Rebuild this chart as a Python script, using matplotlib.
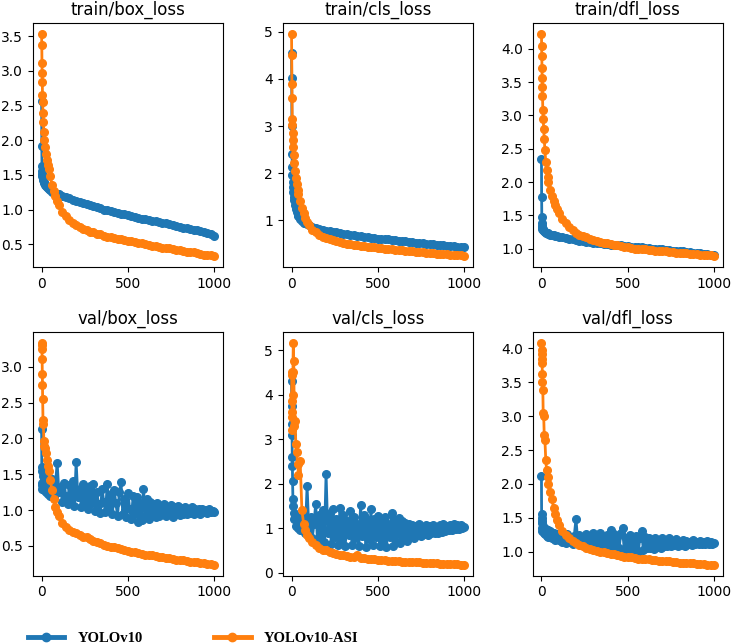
import matplotlib
matplotlib.use('Agg')
import matplotlib.pyplot as plt
from matplotlib.lines import Line2D

early_epochs = [0, 1, 2, 3, 4, 5, 6, 8, 10, 13, 16, 20, 25, 30, 35, 40, 50, 60, 70, 80, 90, 100]
epochs = early_epochs + list(range(120, 1001, 20))       # smooth curves
epochs_val = early_epochs + list(range(110, 1001, 10))   # noisy YOLOv10 val curves

##### train losses
train_box_v10 = [2.56, 1.92, 1.63, 1.56, 1.52, 1.49, 1.47, 1.44, 1.42, 1.40, 1.38, 1.36, 1.34, 1.32, 1.31, 1.30,
                 1.28, 1.26, 1.25, 1.24, 1.23, 1.22,
                 1.20, 1.18, 1.16, 1.14, 1.13, 1.11, 1.10, 1.08, 1.06, 1.05,
                 1.03, 1.02, 1.00, 0.99, 0.98, 0.96, 0.95, 0.94, 0.93, 0.92,
                 0.91, 0.89, 0.88, 0.87, 0.86, 0.85, 0.84, 0.83, 0.82, 0.81,
                 0.80, 0.79, 0.77, 0.76, 0.75, 0.74, 0.73, 0.72, 0.71, 0.70,
                 0.69, 0.67, 0.66, 0.64, 0.62]
train_box_asi = [3.53, 3.37, 3.12, 2.97, 2.84, 2.65, 2.55, 2.40, 2.27, 2.12, 2.00, 1.90, 1.80, 1.72, 1.64, 1.58,
                 1.48, 1.36, 1.27, 1.19, 1.12, 1.06,
                 0.97, 0.90, 0.85, 0.81, 0.78, 0.75, 0.72, 0.70, 0.68, 0.67,
                 0.65, 0.64, 0.62, 0.61, 0.60, 0.59, 0.58, 0.57, 0.56, 0.55,
                 0.54, 0.53, 0.52, 0.51, 0.50, 0.49, 0.48, 0.47, 0.46, 0.45,
                 0.44, 0.44, 0.43, 0.42, 0.41, 0.40, 0.39, 0.39, 0.38, 0.37,
                 0.36, 0.35, 0.35, 0.34, 0.33]
train_cls_v10 = [4.55, 4.03, 3.00, 2.40, 2.12, 1.95, 1.82, 1.70, 1.60, 1.50, 1.42, 1.33, 1.24, 1.17, 1.12, 1.08,
                 1.02, 0.98, 0.95, 0.93, 0.91, 0.89,
                 0.86, 0.84, 0.82, 0.80, 0.78, 0.77, 0.75, 0.74, 0.72, 0.71,
                 0.70, 0.69, 0.68, 0.67, 0.66, 0.65, 0.64, 0.63, 0.62, 0.61,
                 0.60, 0.59, 0.59, 0.58, 0.57, 0.56, 0.55, 0.55, 0.54, 0.53,
                 0.52, 0.52, 0.51, 0.50, 0.49, 0.49, 0.48, 0.47, 0.47, 0.46,
                 0.45, 0.45, 0.44, 0.43, 0.42]
train_cls_asi = [4.95, 4.50, 3.90, 3.60, 3.15, 3.02, 2.85, 2.70, 2.55, 2.38, 2.22, 2.05, 1.90, 1.76, 1.64, 1.55,
                 1.40, 1.26, 1.15, 1.05, 0.97, 0.90,
                 0.80, 0.74, 0.69, 0.65, 0.62, 0.59, 0.57, 0.55, 0.53, 0.52,
                 0.50, 0.49, 0.48, 0.47, 0.46, 0.45, 0.44, 0.43, 0.42, 0.41,
                 0.40, 0.39, 0.39, 0.38, 0.37, 0.36, 0.36, 0.35, 0.34, 0.34,
                 0.33, 0.32, 0.32, 0.31, 0.30, 0.30, 0.29, 0.29, 0.28, 0.28,
                 0.27, 0.26, 0.26, 0.25, 0.24]
train_dfl_v10 = [2.35, 1.78, 1.47, 1.38, 1.34, 1.32, 1.30, 1.29, 1.28, 1.27, 1.26, 1.25, 1.24, 1.23, 1.23, 1.22,
                 1.21, 1.20, 1.20, 1.19, 1.19, 1.18,
                 1.17, 1.16, 1.15, 1.14, 1.13, 1.12, 1.11, 1.10, 1.10, 1.09,
                 1.08, 1.08, 1.07, 1.07, 1.06, 1.06, 1.05, 1.05, 1.04, 1.04,
                 1.03, 1.03, 1.02, 1.02, 1.01, 1.01, 1.00, 1.00, 0.99, 0.99,
                 0.98, 0.98, 0.97, 0.97, 0.96, 0.96, 0.95, 0.95, 0.94, 0.94,
                 0.93, 0.92, 0.92, 0.91, 0.90]
train_dfl_asi = [4.22, 4.05, 3.90, 3.72, 3.57, 3.43, 3.30, 3.08, 2.95, 2.80, 2.65, 2.48, 2.30, 2.18, 2.08, 2.00,
                 1.88, 1.79, 1.71, 1.65, 1.59, 1.54,
                 1.45, 1.38, 1.33, 1.28, 1.24, 1.21, 1.19, 1.17, 1.15, 1.13,
                 1.12, 1.10, 1.09, 1.08, 1.07, 1.06, 1.05, 1.04, 1.03, 1.02,
                 1.01, 1.00, 1.00, 0.99, 0.99, 0.98, 0.98, 0.97, 0.97, 0.96,
                 0.96, 0.95, 0.95, 0.94, 0.94, 0.93, 0.93, 0.92, 0.92, 0.92,
                 0.91, 0.91, 0.90, 0.90, 0.89]

##### val losses (YOLOv10 on epochs_val, YOLOv10-ASI on epochs)
val_box_v10 = [2.13, 1.55, 1.35, 1.30, 1.60, 1.38, 1.32, 1.48, 1.30, 1.42, 1.28, 1.45, 1.25, 1.40, 1.22, 1.38,
               1.20, 1.43, 1.18, 1.35, 1.66, 1.25,
               1.32, 1.12, 1.38, 1.20, 1.08, 1.35, 1.15, 1.40, 1.06, 1.67,
               1.18, 1.30, 1.04, 1.36, 1.12, 1.28, 1.02, 1.34, 1.10, 1.37,
               0.99, 1.25, 1.08, 0.96, 1.30, 1.12, 0.97, 1.36, 1.05, 1.22,
               0.94, 1.28, 1.10, 0.92, 1.25, 1.39, 0.95, 1.15, 0.90, 1.24,
               1.02, 0.88, 1.20, 0.95, 1.18, 0.84, 1.10, 0.86, 1.30, 0.92,
               1.15, 0.87, 1.12, 0.95, 1.08, 0.90, 1.10, 0.92, 1.06, 0.94,
               1.08, 0.92, 1.05, 0.95, 1.07, 0.91, 1.04, 0.94, 1.06, 0.93,
               1.03, 0.95, 1.05, 0.94, 1.02, 0.96, 1.04, 0.95, 1.02, 0.97,
               1.01, 0.95, 1.02, 0.97, 1.00, 0.96, 1.01, 0.97, 0.99, 0.98]
val_box_asi = [3.33, 3.30, 3.25, 3.10, 2.90, 2.75, 2.55, 2.25, 2.20, 1.97, 1.90, 1.87, 1.80, 1.70, 1.62, 1.55,
               1.42, 1.28, 1.15, 1.05, 0.98, 0.92,
               0.82, 0.76, 0.72, 0.70, 0.68, 0.66, 0.63, 0.62, 0.60, 0.57,
               0.55, 0.54, 0.52, 0.50, 0.49, 0.48, 0.47, 0.46, 0.44, 0.43,
               0.42, 0.41, 0.40, 0.39, 0.38, 0.38, 0.37, 0.36, 0.35, 0.34,
               0.33, 0.33, 0.32, 0.31, 0.30, 0.30, 0.29, 0.28, 0.28, 0.27,
               0.26, 0.26, 0.25, 0.25, 0.24]
val_cls_v10 = [4.30, 3.75, 3.35, 3.10, 2.60, 2.40, 2.05, 1.65, 1.50, 1.35, 1.20, 1.30, 1.05, 1.25, 1.00, 1.20,
               0.95, 1.15, 1.30, 0.90, 1.95, 1.00,
               1.25, 0.78, 1.10, 1.55, 0.72, 1.30, 0.85, 1.40, 0.68, 2.22,
               0.90, 1.35, 0.65, 1.42, 0.80, 1.20, 0.62, 1.45, 0.75, 1.30,
               0.60, 1.15, 0.85, 1.38, 0.62, 1.25, 0.78, 1.10, 0.60, 1.52,
               0.82, 1.30, 0.58, 1.18, 0.75, 1.42, 0.62, 1.20, 0.80, 1.28,
               0.60, 1.15, 0.72, 1.25, 0.58, 1.10, 0.80, 1.35, 0.60, 1.18,
               0.70, 1.22, 0.66, 1.15, 0.78, 1.12, 0.72, 1.10, 0.80, 1.08,
               0.78, 1.05, 0.84, 1.10, 0.82, 1.02, 0.86, 1.08, 0.85, 1.05,
               0.88, 1.08, 0.90, 1.02, 0.88, 1.06, 0.92, 1.10, 0.93, 1.04,
               0.95, 1.08, 0.96, 1.10, 0.98, 1.06, 0.97, 1.08, 1.00, 1.03]
val_cls_asi = [4.50, 4.45, 3.85, 3.60, 3.20, 3.50, 4.00, 4.50, 5.16, 4.75, 3.30, 3.40, 2.90, 2.70, 2.45, 2.20,
               2.50, 1.40, 1.10, 0.95, 0.85, 0.78,
               0.68, 0.62, 0.56, 0.52, 0.50, 0.47, 0.44, 0.42, 0.40, 0.39,
               0.38, 0.36, 0.35, 0.40, 0.33, 0.32, 0.31, 0.30, 0.30, 0.29,
               0.28, 0.28, 0.27, 0.27, 0.26, 0.26, 0.25, 0.25, 0.24, 0.24,
               0.23, 0.23, 0.22, 0.22, 0.21, 0.21, 0.21, 0.20, 0.20, 0.20,
               0.19, 0.19, 0.19, 0.18, 0.18]
val_dfl_v10 = [2.12, 1.45, 1.30, 1.55, 1.50, 1.35, 1.42, 1.30, 1.38, 1.28, 1.35, 1.26, 1.33, 1.24, 1.32, 1.22,
               1.30, 1.20, 1.28, 1.18, 1.26, 1.17,
               1.25, 1.14, 1.22, 1.13, 1.26, 1.15, 1.20, 1.12, 1.24, 1.48,
               1.16, 1.25, 1.10, 1.22, 1.12, 1.26, 1.09, 1.24, 1.14, 1.27,
               1.06, 1.22, 1.10, 1.28, 1.04, 1.20, 1.08, 1.25, 1.03, 1.32,
               1.10, 1.26, 1.02, 1.22, 1.06, 1.28, 1.35, 1.00, 1.20, 1.05,
               1.25, 1.00, 1.18, 1.06, 1.24, 0.99, 1.20, 1.30, 1.03, 1.22,
               1.05, 1.20, 1.06, 1.18, 1.04, 1.21, 1.07, 1.17, 1.06, 1.20,
               1.08, 1.18, 1.09, 1.20, 1.08, 1.16, 1.10, 1.19, 1.09, 1.15,
               1.10, 1.17, 1.09, 1.16, 1.11, 1.15, 1.10, 1.17, 1.11, 1.15,
               1.11, 1.16, 1.12, 1.15, 1.11, 1.16, 1.12, 1.14, 1.12, 1.13]
val_dfl_asi = [4.08, 3.98, 3.92, 3.85, 3.78, 3.62, 3.50, 3.38, 3.05, 3.00, 2.72, 2.65, 2.35, 2.20, 2.10, 2.00,
               1.88, 1.78, 1.65, 1.55, 1.47, 1.40,
               1.31, 1.25, 1.20, 1.16, 1.13, 1.10, 1.08, 1.06, 1.04, 1.03,
               1.01, 1.00, 0.99, 0.98, 0.97, 0.96, 0.95, 0.94, 0.93, 0.93,
               0.92, 0.91, 0.90, 0.90, 0.89, 0.89, 0.88, 0.88, 0.87, 0.87,
               0.86, 0.86, 0.85, 0.85, 0.84, 0.84, 0.83, 0.83, 0.83, 0.82,
               0.82, 0.82, 0.81, 0.81, 0.81]

titles = ['train/box_loss', 'train/cls_loss', 'train/dfl_loss',
          'val/box_loss', 'val/cls_loss', 'val/dfl_loss']
series_v10 = [train_box_v10, train_cls_v10, train_dfl_v10, val_box_v10, val_cls_v10, val_dfl_v10]
series_asi = [train_box_asi, train_cls_asi, train_dfl_asi, val_box_asi, val_cls_asi, val_dfl_asi]
labels = ['YOLOv10', 'YOLOv10-ASI']
blue = '#1f77b4'
orange = '#ff7f0e'

fig, axs = plt.subplots(2, 3, figsize=(7.33, 6.44), dpi=100)
plt.subplots_adjust(left=0.045, right=0.986, top=0.964, bottom=0.106, wspace=0.316, hspace=0.266)

for k, ax in enumerate(axs.flat):
    x_v10 = epochs if k < 3 else epochs_val
    ax.plot(x_v10, series_v10[k], color=blue, marker='o', markersize=5.5, linewidth=2)
    ax.plot(epochs, series_asi[k], color=orange, marker='o', markersize=5.5, linewidth=2)
    ax.set_title(titles[k], fontsize=12)
    ax.tick_params(labelsize=10)

# legend across the bottom
handles = [Line2D([], [], color=blue, marker='o', markersize=6, linewidth=3.5),
           Line2D([], [], color=orange, marker='o', markersize=6, linewidth=3.5)]
fig.legend(handles, labels, loc='center left', bbox_to_anchor=(0.02, 0.009), ncol=2, frameon=False,
           prop={'family': 'Liberation Serif', 'weight': 'bold', 'size': 10.5},
           handlelength=2.5, handletextpad=0.9, columnspacing=4.9)

plt.savefig('out.png', dpi=100)
